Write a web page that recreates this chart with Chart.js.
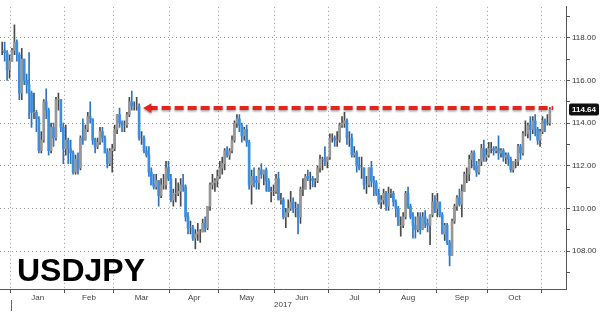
<!DOCTYPE html>
<html>
<head>
<meta charset="utf-8">
<script src="https://cdn.jsdelivr.net/npm/chart.js@4.4.1/dist/chart.umd.min.js"></script>
<style>
html, body { margin: 0; padding: 0; background: #fff; }
#wrap { width: 600px; height: 313px; }
</style>
</head>
<body>
<div id="wrap"><canvas id="canvas"></canvas></div>
<script>
// USDJPY daily candles, 27 Dec 2016 - 6 Nov 2017 (one entry per weekday)
var pairName = "USDJPY";
var yearLabel = "2017";
var firstDay = -4; // 27 Dec is four weekdays before 2 Jan

var opens = [
    117.4, 117.4, 117.3, 116.5,
    116.9, 117.4, 117.8, 117.2, 115.4, 117.0, 116.0, 115.8, 115.4, 114.5, 114.5, 114.2, 112.7, 113.2, 115.0, 114.6, 112.7, 113.8, 113.3, 115.1, 115.1, 113.8,
    112.8, 113.2, 112.8, 112.6, 111.7, 112.3, 111.9, 113.3, 113.2, 113.7, 114.3, 114.2, 113.2, 112.9, 113.1, 113.6, 113.3, 112.6, 112.1, 112.7,
    112.8, 113.7, 114.4, 114.0, 113.9, 113.9, 114.4, 115.0, 114.8, 114.8, 114.8, 113.3, 113.3, 112.7, 112.5, 111.7, 111.1, 111.0, 111.3, 110.6, 111.1, 111.1, 111.9,
    111.4, 110.4, 110.7, 110.7, 110.8, 111.1, 111.0, 109.6, 109.1, 109.1, 108.6, 108.8, 108.9, 108.9, 109.3, 109.1, 110.1, 111.1, 111.2, 111.3,
    111.5, 111.9, 112.1, 112.7, 112.5, 112.7, 113.2, 114.0, 114.2, 113.9, 113.4, 113.7, 113.1, 111.1, 111.5, 111.3, 111.2, 111.8, 111.6, 111.8, 111.3, 110.8, 110.8,
    110.8, 111.4, 110.4, 110.4, 109.6, 109.8, 110.0, 110.3, 110.0, 110.0, 109.6, 110.9, 110.9, 111.5, 111.4, 111.4, 111.3, 111.3, 111.9, 112.3, 112.3, 112.2,
    112.4, 113.3, 113.3, 113.2, 113.2, 113.9, 114.0, 114.1, 113.3, 113.3, 112.5, 112.6, 112.0, 111.9, 111.9, 111.1, 111.1, 111.9, 111.3, 111.2, 110.7,
    110.3, 110.4, 110.7, 110.1, 110.7, 110.7, 110.3, 110.0, 109.2, 109.2, 109.6, 110.7, 110.1, 109.6, 109.2, 109.0, 109.6, 109.0, 109.6, 109.3, 109.2, 109.7, 110.3,
    110.0, 110.3, 109.7, 108.8, 109.2, 108.4, 107.8, 109.4, 110.1, 110.5, 110.2, 110.8, 111.6, 111.6, 112.3, 112.6, 112.0, 111.7, 112.2, 112.8, 112.4,
    112.5, 112.8, 112.8, 112.7, 112.8, 112.6, 112.7, 112.4, 112.5, 112.3, 111.8, 112.2, 112.2, 112.9, 112.6, 113.5, 113.5, 113.9, 113.7, 114.1, 113.7, 113.2,
    113.6, 114.1, 114.0, 114.0
];
var highs = [
    117.8, 117.8, 117.4, 117.2,
    117.5, 118.6, 117.9, 117.3, 117.5, 117.0, 116.3, 117.3, 115.5, 115.4, 114.6, 114.3, 113.6, 115.1, 115.6, 114.7, 114.0, 114.0, 115.2, 115.4, 115.1, 114.0,
    113.9, 113.3, 113.2, 112.7, 112.5, 112.6, 113.4, 114.2, 113.9, 114.5, 115.0, 114.2, 113.3, 113.3, 113.8, 113.8, 113.4, 112.8, 112.8, 113.0,
    113.9, 114.4, 114.7, 114.1, 114.1, 114.5, 115.2, 115.5, 115.0, 115.2, 114.9, 113.6, 113.4, 112.9, 112.9, 111.9, 111.6, 111.6, 111.3, 111.4, 111.6, 112.2, 112.2,
    111.6, 110.9, 111.4, 111.2, 111.4, 111.6, 111.1, 109.8, 109.4, 109.2, 109.0, 109.3, 109.0, 109.5, 109.6, 110.1, 111.2, 111.6, 111.4, 111.8,
    112.2, 112.4, 112.8, 112.9, 112.8, 113.4, 114.1, 114.4, 114.4, 114.0, 113.8, 113.9, 113.2, 111.8, 111.9, 111.5, 111.9, 112.1, 111.8, 111.9, 111.4, 111.0, 111.1,
    111.6, 111.7, 110.7, 110.5, 110.0, 110.4, 110.8, 110.5, 110.3, 110.2, 111.0, 111.4, 111.6, 111.8, 111.7, 111.5, 111.4, 112.0, 112.5, 112.4, 112.9, 112.4,
    113.5, 113.5, 113.4, 113.6, 114.0, 114.3, 114.5, 114.2, 113.6, 113.5, 112.9, 112.7, 112.4, 112.4, 111.9, 111.5, 111.9, 112.2, 111.5, 111.3, 110.9,
    110.6, 110.9, 110.8, 111.0, 110.9, 110.8, 110.4, 110.1, 109.6, 109.8, 110.8, 111.0, 110.2, 109.8, 109.6, 109.8, 109.8, 109.8, 109.9, 109.5, 109.7, 110.7, 110.6,
    110.7, 110.3, 109.8, 109.3, 109.3, 108.5, 109.5, 110.2, 110.6, 110.9, 111.1, 111.7, 111.9, 112.5, 112.7, 112.7, 112.2, 112.3, 113.0, 113.2, 112.8,
    113.1, 113.1, 112.9, 112.9, 113.4, 112.8, 112.8, 112.6, 112.6, 112.4, 112.2, 112.3, 113.0, 113.0, 113.6, 114.1, 114.0, 114.3, 114.3, 114.4, 113.8, 113.7,
    114.3, 114.2, 114.4, 114.73
];
var lows = [
    117.2, 116.9, 116.0, 116.1,
    116.9, 117.2, 116.9, 115.1, 115.1, 115.8, 115.4, 114.2, 113.8, 114.2, 113.6, 112.6, 112.6, 113.1, 114.2, 112.5, 112.6, 112.9, 113.2, 114.6, 113.6, 112.1,
    112.5, 112.1, 112.1, 111.6, 111.6, 111.6, 111.8, 113.0, 113.2, 113.6, 114.0, 113.0, 112.6, 112.8, 113.0, 113.1, 112.6, 111.9, 112.0, 111.7,
    112.7, 113.5, 113.8, 113.6, 113.6, 113.8, 114.3, 114.6, 114.6, 114.6, 113.2, 113.0, 112.6, 112.4, 111.5, 111.1, 110.9, 110.9, 110.1, 110.5, 110.9, 110.9, 111.3,
    110.3, 110.1, 110.3, 110.6, 110.1, 110.8, 109.4, 108.8, 108.8, 108.5, 108.1, 108.5, 108.4, 108.9, 108.9, 109.0, 109.9, 110.9, 110.8, 111.0,
    111.4, 111.6, 111.8, 112.4, 112.3, 112.6, 113.1, 113.8, 113.6, 113.1, 113.2, 112.9, 110.9, 110.2, 111.0, 110.9, 110.9, 111.4, 111.1, 110.8, 110.8, 110.3, 110.6,
    110.7, 110.4, 110.2, 109.5, 109.1, 109.6, 109.9, 109.8, 109.6, 108.8, 109.3, 110.6, 110.9, 111.3, 110.9, 111.0, 111.0, 111.2, 111.7, 111.8, 112.0, 111.9,
    112.3, 113.1, 112.9, 112.9, 113.1, 113.8, 113.8, 113.0, 112.9, 112.4, 112.4, 111.7, 111.8, 111.4, 110.9, 110.7, 111.0, 111.0, 110.6, 110.6, 110.2,
    110.0, 110.2, 109.9, 109.9, 110.5, 110.1, 109.6, 109.2, 108.7, 109.1, 109.5, 110.0, 109.5, 108.6, 108.6, 108.9, 108.8, 109.0, 109.1, 108.9, 108.3, 109.6, 109.8,
    109.6, 109.6, 108.8, 108.5, 108.3, 107.3, 107.8, 109.3, 109.9, 110.1, 109.6, 110.8, 111.2, 111.3, 111.9, 111.8, 111.5, 111.6, 112.0, 112.2, 112.2,
    112.4, 112.6, 112.5, 112.6, 112.3, 112.4, 112.2, 112.1, 112.0, 111.7, 111.7, 111.9, 112.0, 112.3, 112.5, 113.4, 113.3, 113.2, 113.5, 113.4, 113.0, 112.9,
    113.5, 113.6, 113.9, 113.9
];
var closes = [
    117.4, 117.3, 116.5, 116.9,
    117.4, 117.8, 117.2, 115.4, 117.0, 116.0, 115.8, 115.4, 114.5, 114.5, 114.2, 112.7, 113.2, 115.0, 114.6, 112.7, 113.8, 113.3, 115.1, 115.1, 113.8, 112.8,
    113.2, 112.8, 112.6, 111.7, 112.3, 111.9, 113.3, 113.2, 113.7, 114.3, 114.2, 113.2, 112.9, 113.1, 113.6, 113.3, 112.6, 112.1, 112.7, 112.8,
    113.7, 114.4, 114.0, 113.9, 113.9, 114.4, 115.0, 114.8, 114.8, 114.8, 113.3, 113.3, 112.7, 112.5, 111.7, 111.1, 111.0, 111.3, 110.6, 111.1, 111.1, 111.9, 111.4,
    110.4, 110.7, 110.7, 110.8, 111.1, 111.0, 109.6, 109.1, 109.1, 108.6, 108.8, 108.9, 108.9, 109.3, 109.1, 110.1, 111.1, 111.2, 111.3, 111.5,
    111.9, 112.1, 112.7, 112.5, 112.7, 113.2, 114.0, 114.2, 113.9, 113.4, 113.7, 113.1, 111.1, 111.5, 111.3, 111.2, 111.8, 111.6, 111.8, 111.3, 110.8, 110.8, 110.8,
    111.4, 110.4, 110.4, 109.6, 109.8, 110.0, 110.3, 110.0, 110.0, 109.6, 110.9, 110.9, 111.5, 111.4, 111.4, 111.3, 111.3, 111.9, 112.3, 112.3, 112.2, 112.4,
    113.3, 113.3, 113.2, 113.2, 113.9, 114.0, 114.1, 113.3, 113.3, 112.5, 112.6, 112.0, 111.9, 111.9, 111.1, 111.1, 111.9, 111.3, 111.2, 110.7, 110.3,
    110.4, 110.7, 110.1, 110.7, 110.7, 110.3, 110.0, 109.2, 109.2, 109.6, 110.7, 110.1, 109.6, 109.2, 109.0, 109.6, 109.0, 109.6, 109.3, 109.2, 109.7, 110.3, 110.0,
    110.3, 109.7, 108.8, 109.2, 108.4, 107.8, 109.4, 110.1, 110.5, 110.2, 110.8, 111.6, 111.6, 112.3, 112.6, 112.0, 111.7, 112.2, 112.8, 112.4, 112.5,
    112.8, 112.8, 112.7, 112.8, 112.6, 112.7, 112.4, 112.5, 112.3, 111.8, 112.2, 112.2, 112.9, 112.6, 113.5, 113.5, 113.9, 113.7, 114.1, 113.7, 113.2, 113.6,
    114.1, 114.0, 114.0, 114.64
];

// x axis: weekday index, 0 = 2 Jan 2017
var months = ["Jan", "Feb", "Mar", "Apr", "May", "Jun", "Jul", "Aug", "Sep", "Oct"];
var monthStarts = [0, 22, 42, 65, 85, 108, 130, 151, 174, 195, 217];
var yTicks = [107, 108, 109, 110, 111, 112, 113, 114, 115, 116, 117, 118, 119];
var arrowLevel = 114.7;
var arrowFrom = 56.4;
var arrowTo = 221.8;

var UP_BODY = "#979797", UP_WICK = "#4a4a4a";
var DOWN_BODY = "#3a8fe3", DOWN_WICK = "#2c74c4";
var GRID = "#9a9a9a";

var monthMids = [];
for (var m = 0; m < months.length; m++) {
    monthMids.push((monthStarts[m] + monthStarts[m + 1]) / 2);
}

var wicks = [], bodies = [];
for (var i = 0; i < closes.length; i++) {
    var xx = firstDay + i + 0.5;
    wicks.push({x: xx, y: [lows[i], highs[i]]});
    bodies.push({x: xx, y: [opens[i], closes[i]]});
}
function isUp(ctx) {
    return closes[ctx.dataIndex] >= opens[ctx.dataIndex];
}

// text, price box and arrow shadow
var extras = {
    id: "extras",
    beforeDatasetDraw: function (chart, args) {
        if (args.index === 2) {
            chart.ctx.save();
            chart.ctx.shadowColor = "rgba(0,0,0,0.35)";
            chart.ctx.shadowOffsetY = 1.5;
            chart.ctx.shadowBlur = 2;
        }
    },
    afterDatasetDraw: function (chart, args) {
        if (args.index === 2) chart.ctx.restore();
    },
    afterDatasetsDraw: function (chart) {
        var ctx = chart.ctx;
        var area = chart.chartArea;
        var ys = chart.scales.y, xs = chart.scales.x;
        ctx.save();
        ctx.fillStyle = "#000";
        ctx.font = "bold 32px 'Liberation Sans', Arial, sans-serif";
        ctx.textBaseline = "alphabetic";
        ctx.fillText(pairName, area.left + 17, area.bottom - 8);

        // last price box
        var last = closes[closes.length - 1];
        var py = ys.getPixelForValue(last);
        var bx = ys.left + 3, bw = chart.width - bx - 1, bh = 12;
        ctx.fillStyle = "#111";
        ctx.beginPath();
        ctx.roundRect(bx, py - bh / 2, bw, bh, 2);
        ctx.fill();
        ctx.fillStyle = "#fff";
        ctx.font = "bold 8px 'Liberation Sans', Arial, sans-serif";
        ctx.textBaseline = "middle";
        ctx.textAlign = "center";
        ctx.fillText(last.toFixed(2), bx + bw / 2, py + 0.5);

        // year tick
        var yx = Math.round(xs.getPixelForValue(0)) + 0.5;
        ctx.strokeStyle = "#666";
        ctx.lineWidth = 1;
        ctx.beginPath();
        ctx.moveTo(yx, area.bottom + 11);
        ctx.lineTo(yx, area.bottom + 22);
        ctx.stroke();
        ctx.restore();
    }
};

Chart.defaults.font.family = "'Liberation Sans', Arial, sans-serif";
Chart.defaults.font.size = 8;
Chart.defaults.color = "#333";

new Chart(document.getElementById("canvas"), {
    type: "bar",
    data: {
        datasets: [{
            data: wicks,
            grouped: false,
            barThickness: 1,
            backgroundColor: function (ctx) { return isUp(ctx) ? UP_WICK : DOWN_WICK; },
            order: 3
        }, {
            data: bodies,
            grouped: false,
            barThickness: 2,
            backgroundColor: function (ctx) { return isUp(ctx) ? UP_BODY : DOWN_BODY; },
            order: 2
        }, {
            type: "line",
            data: [{x: arrowFrom, y: arrowLevel}, {x: arrowTo, y: arrowLevel}],
            borderColor: "#e8231d",
            backgroundColor: "#e8231d",
            borderWidth: 4,
            borderDash: [9, 4],
            pointStyle: "triangle",
            pointRotation: 270,
            pointRadius: [5.5, 0],
            pointBorderWidth: 0,
            order: 1
        }]
    },
    options: {
        responsive: true,
        maintainAspectRatio: false,
        animation: false,
        layout: {padding: 0, autoPadding: false},
        plugins: {legend: {display: false}, tooltip: {enabled: false}},
        scales: {
            x: {
                type: "linear",
                min: -4.4,
                max: 227.1,
                offset: false,
                afterBuildTicks: function (s) {
                    s.ticks = monthStarts.concat(monthMids).sort(function (a, b) { return a - b; })
                        .map(function (v) { return {value: v}; });
                },
                afterFit: function (s) { s.height = 24; },
                grid: {
                    offset: false,
                    color: function (c) { return c.tick && monthStarts.indexOf(c.tick.value) >= 0 ? GRID : "rgba(0,0,0,0)"; },
                    tickColor: function (c) { return c.tick && monthStarts.indexOf(c.tick.value) >= 0 ? "#555" : "rgba(0,0,0,0)"; },
                    tickLength: 4
                },
                border: {color: "#555", dash: [1, 3]},
                ticks: {
                    autoSkip: false,
                    maxRotation: 0,
                    padding: 0,
                    color: "#444",
                    callback: function (v) {
                        var k = monthMids.indexOf(v);
                        return k >= 0 ? months[k] : "";
                    }
                },
                title: {display: true, text: yearLabel, color: "#444", padding: {top: 0, bottom: 3}}
            },
            y: {
                type: "linear",
                position: "right",
                min: 106.22,
                max: 119.45,
                afterBuildTicks: function (s) {
                    s.ticks = yTicks.map(function (v) { return {value: v}; });
                },
                afterFit: function (s) { s.width = 34; },
                grid: {
                    color: function (c) { return c.tick && c.tick.value % 2 === 0 ? GRID : "rgba(0,0,0,0)"; },
                    tickColor: "#555",
                    tickLength: 4
                },
                border: {color: "#555", dash: [1, 3]},
                ticks: {
                    padding: 2,
                    color: "#333",
                    callback: function (v) { return v % 2 === 0 ? v.toFixed(2) : ""; }
                }
            }
        }
    },
    plugins: [extras]
});
</script>
</body>
</html>
